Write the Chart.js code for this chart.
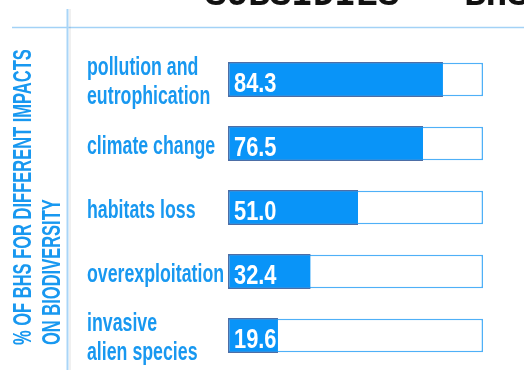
<!DOCTYPE html>
<html>
<head>
<meta charset="utf-8">
<script src="https://cdn.jsdelivr.net/npm/chart.js@4"></script>
<style>
  html, body { margin: 0; padding: 0; background: #fff; }
  #wrap { width: 524px; height: 370px; position: relative; }
</style>
</head>
<body>
<div id="wrap"><canvas id="grafica"></canvas></div>
<script>
const categorias = [
  ['pollution and', 'eutrophication'],
  'climate change',
  'habitats loss',
  'overexploitation',
  ['invasive', 'alien species']
];
const porcentajes = [84.3, 76.5, 51.0, 32.4, 19.6];
const totales = [100, 100, 100, 100, 100];
const titulo = 'SUBSIDIES – BHS';
const tituloEje = ['% OF BHS FOR DIFFERENT IMPACTS', 'ON BIODIVERSITY'];

const AZUL = '#1898f0';

// texto condensado (la fuente original es tipo DIN condensada)
function textoCondensado(ctx, texto, x, y, escala) {
  ctx.save();
  ctx.translate(x, y);
  ctx.scale(escala, 1);
  ctx.fillText(texto, 0, 0);
  ctx.restore();
}

const decoracion = {
  id: 'decoracion',
  beforeDraw(chart) {
    const ctx = chart.ctx;
    ctx.save();
    // lineas guia
    ctx.strokeStyle = '#a3d2f6';
    ctx.lineWidth = 1.5;
    ctx.beginPath();
    ctx.moveTo(12, 27.5);
    ctx.lineTo(524, 27.5);
    ctx.stroke();
    ctx.strokeStyle = 'rgba(0,0,0,0.06)';
    ctx.lineWidth = 2;
    ctx.beginPath();
    ctx.moveTo(70, 9);
    ctx.lineTo(70, 370);
    ctx.stroke();
    ctx.strokeStyle = '#a9d5f7';
    ctx.lineWidth = 2;
    ctx.beginPath();
    ctx.moveTo(67.5, 9);
    ctx.lineTo(67.5, 370);
    ctx.stroke();

    // titulo cortado arriba
    ctx.fillStyle = '#111';
    ctx.font = 'bold 36px "Liberation Mono", monospace';
    ctx.textBaseline = 'alphabetic';
    ctx.fillText(titulo, 205, 5);

    // titulo del eje (rotado)
    ctx.fillStyle = AZUL;
    ctx.font = 'bold 25px "Liberation Sans", Arial, sans-serif';
    [31, 60].forEach((bx, i) => {
      ctx.save();
      ctx.translate(bx, 345);
      ctx.rotate(-Math.PI / 2);
      ctx.scale(0.66, 1);
      ctx.fillText(tituloEje[i], 0, 0);
      ctx.restore();
    });
    ctx.restore();
  },
  afterDraw(chart) {
    const ctx = chart.ctx;
    const y = chart.scales.y;
    const x = chart.scales.x;
    ctx.save();

    // etiquetas de categorias
    ctx.fillStyle = AZUL;
    ctx.font = 'bold 25px "Liberation Sans", Arial, sans-serif';
    ctx.textBaseline = 'alphabetic';
    categorias.forEach((c, i) => {
      const cy = y.getPixelForValue(i);
      const lineas = Array.isArray(c) ? c : [c];
      const inicio = cy - (lineas.length - 1) * 29 / 2;
      lineas.forEach((l, j) => {
        textoCondensado(ctx, l, 87, inicio + j * 29 + 10, 0.71);
      });
    });

    // valores dentro de las barras
    ctx.fillStyle = '#fff';
    ctx.font = 'bold 28px "Liberation Sans", Arial, sans-serif';
    porcentajes.forEach((v, i) => {
      const cy = y.getPixelForValue(i);
      textoCondensado(ctx, v.toFixed(1), x.getPixelForValue(0) + 6, cy + 12, 0.78);
    });
    ctx.restore();
  }
};

new Chart(document.getElementById('grafica').getContext('2d'), {
  type: 'bar',
  data: {
    labels: categorias,
    datasets: [{
      label: 'Impacto',
      data: porcentajes,
      backgroundColor: '#0994f8',
      borderColor: '#4d6ea6',
      borderWidth: { top: 1.5, left: 1.5, bottom: 1.5, right: 0 },
      borderSkipped: false,
      grouped: false,
      order: 1,
      barPercentage: 0.55,
      categoryPercentage: 1
    }, {
      label: 'Total',
      data: totales,
      backgroundColor: '#ffffff',
      borderColor: '#4fb0f7',
      borderWidth: 1.5,
      borderSkipped: false,
      grouped: false,
      order: 2,
      barPercentage: 0.52,
      categoryPercentage: 1
    }]
  },
  options: {
    indexAxis: 'y',
    responsive: true,
    maintainAspectRatio: false,
    animation: false,
    layout: { padding: { left: 0, right: 41, top: 47.5, bottom: 2.5 } },
    plugins: {
      legend: { display: false },
      tooltip: { enabled: false }
    },
    scales: {
      x: { display: false, min: 0, max: 100 },
      y: {
        grid: { display: false },
        border: { display: false },
        ticks: { display: false },
        afterFit: s => { s.width = 228; }
      }
    }
  },
  plugins: [decoracion]
});
</script>
</body>
</html>
